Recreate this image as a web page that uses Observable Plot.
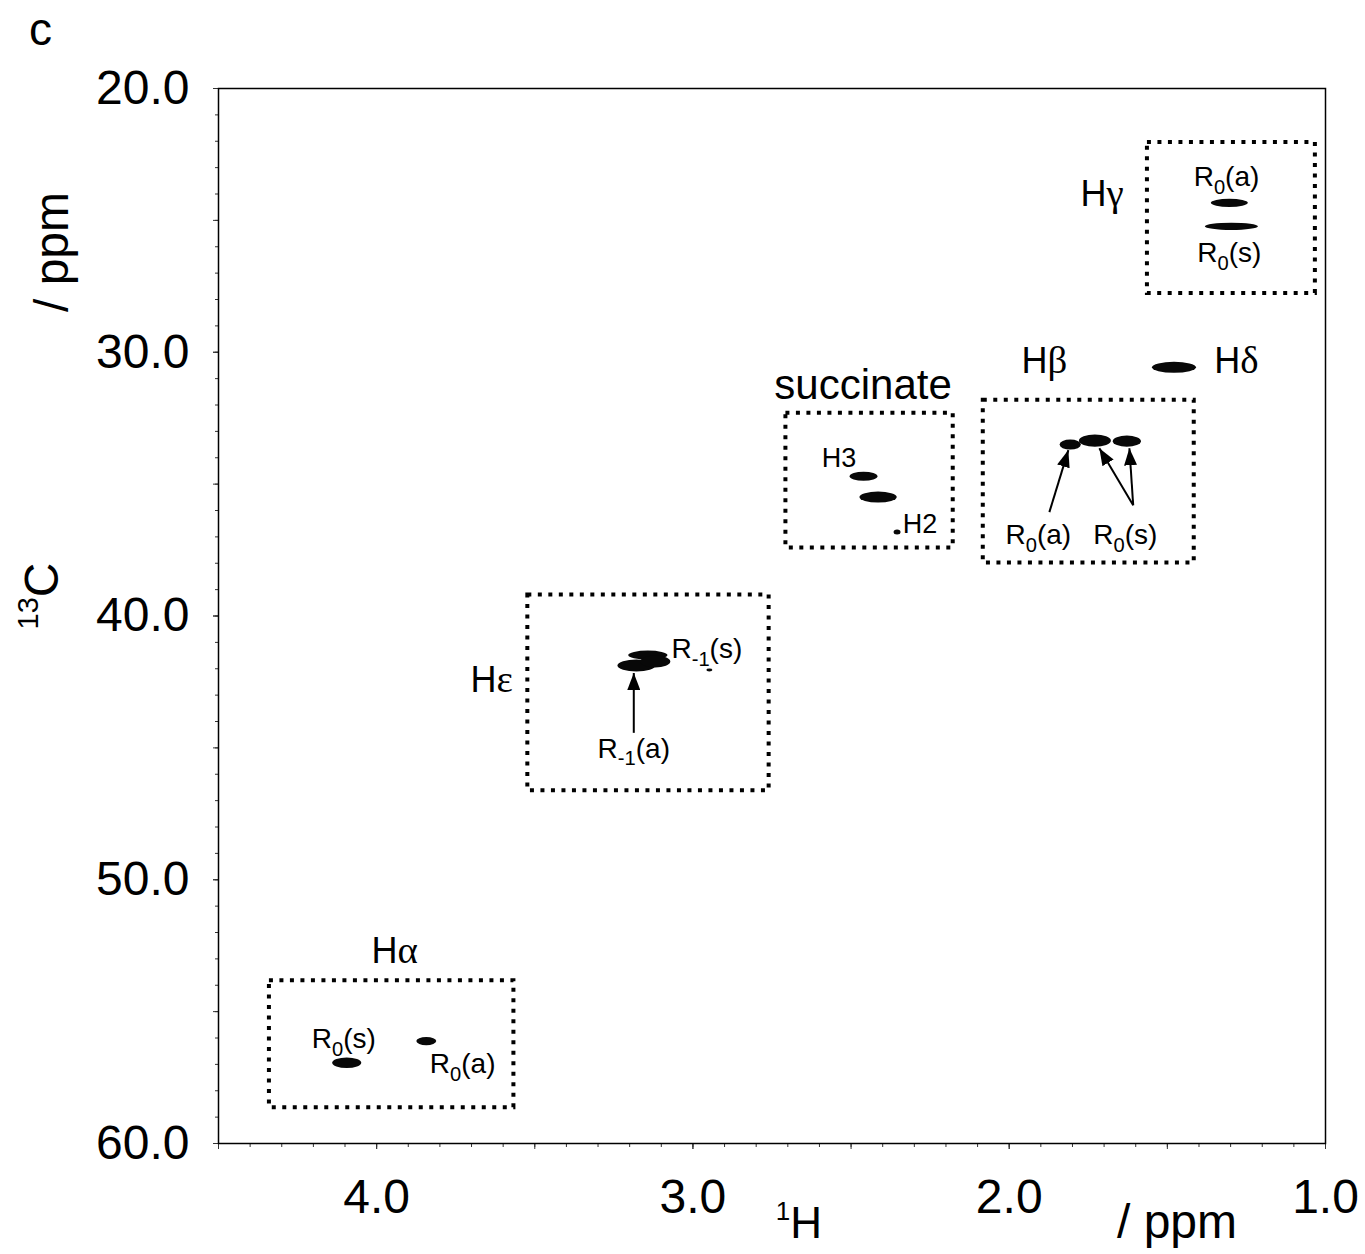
<!DOCTYPE html>
<html><head><meta charset="utf-8">
<script src="https://cdn.jsdelivr.net/npm/d3@7"></script>
<script src="https://cdn.jsdelivr.net/npm/@observablehq/plot@0.6"></script>
<style>body{margin:0;background:#fff} svg{display:block}</style>
</head><body><div id="chart"></div>
<script>
// Axes (ppm)
const xDomain = [4.5, 1.0];
const yDomain = [20, 60];
const xTickLabels = [4.0, 3.0, 2.0, 1.0];
const yTickLabels = [20, 30, 40, 50, 60];

// Dotted boxes around regions (ppm)
const boxName = ["Hγ", "succinate", "Hβ", "Hε", "Hα"];
const boxX1 = [1.563, 2.706, 2.082, 3.522, 4.339];
const boxX2 = [1.032, 2.177, 1.415, 2.759, 3.566];
const boxY1 = [22.05, 32.31, 31.82, 39.20, 53.83];
const boxY2 = [27.77, 37.42, 37.99, 46.63, 58.64];

// Cross peaks: 1H extent (ppm) and 13C extent (ppm)
const peakName = ["Hγ R0(a)", "Hγ R0(s)", "Hδ", "Hβ R0(a)", "Hβ R0(s) 1", "Hβ R0(s) 2",
  "succinate H3", "succinate H2", "succinate minor", "Hε R-1(s)", "Hε R-1(a)", "Hε R-1(a) 2", "Hε minor",
  "Hα R0(s)", "Hα R0(a)"];
const peakH1 = [1.361, 1.380, 1.547, 1.839, 1.778, 1.671, 2.503, 2.472, 2.364, 3.203, 3.237, 3.165, 2.956, 4.139, 3.873];
const peakH2 = [1.244, 1.212, 1.408, 1.772, 1.677, 1.582, 2.415, 2.354, 2.342, 3.079, 3.117, 3.070, 2.937, 4.047, 3.810];
const peakC1 = [24.20, 25.11, 30.38, 33.33, 33.14, 33.18, 34.55, 35.30, 36.74, 41.33, 41.67, 41.52, 42.01, 56.76, 55.98];
const peakC2 = [24.51, 25.38, 30.80, 33.71, 33.60, 33.60, 34.89, 35.72, 36.93, 41.67, 42.12, 41.97, 42.12, 57.16, 56.29];

// Annotation labels
const labelText = ["Hγ", "R_0(a)", "R_0(s)", "Hδ", "Hβ", "R_0(a)", "R_0(s)", "succinate", "H3", "H2",
  "Hε", "R_-1(s)", "R_-1(a)", "Hα", "R_0(s)", "R_0(a)"];
const labelX = [1.706, 1.313, 1.304, 1.282, 1.889, 1.908, 1.633, 2.462, 2.538, 2.282,
  3.636, 2.956, 3.187, 3.943, 4.104, 3.728];
const labelY = [24.02, 23.36, 26.24, 30.34, 30.34, 36.92, 36.92, 31.25, 34.04, 36.54,
  42.46, 41.24, 45.03, 52.73, 56.05, 56.99];
const labelSize = [36, 28, 28, 36, 36, 28, 28, 42, 27, 27, 36, 28, 28, 36, 28, 28];

// Arrows (from label to peak)
const arrowX1 = [1.873, 1.608, 1.608, 3.187];
const arrowY1 = [36.06, 35.80, 35.80, 44.43];
const arrowX2 = [1.813, 1.715, 1.620, 3.187];
const arrowY2 = [33.71, 33.64, 33.64, 42.16];

const boxes = boxName.map((n, i) => ({n, x1: boxX1[i], x2: boxX2[i], y1: boxY1[i], y2: boxY2[i]}));
const peaks = peakName.map((n, i) => ({n, x1: peakH1[i], x2: peakH2[i], y1: peakC1[i], y2: peakC2[i]}));
const labels = labelText.map((t, i) => ({t, x: labelX[i], y: labelY[i], s: labelSize[i]}));
const arrows = arrowX1.map((x1, i) => ({x1, y1: arrowY1[i], x2: arrowX2[i], y2: arrowY2[i]}));

const xMinor = d3.range(10, 46).map(d => d / 10);
const xMid = d3.range(10, 46, 5).map(d => d / 10);
const yMinor = d3.range(20, 61);
const yMid = d3.range(20, 61, 5);

const FONT = "'Liberation Sans', Arial, Helvetica, sans-serif";

const chart = Plot.plot({
  width: 1365, height: 1254,
  marginLeft: 218, marginRight: 40, marginTop: 88, marginBottom: 111,
  x: {domain: xDomain, label: null},
  y: {domain: yDomain, reverse: true, label: null},
  style: {fontFamily: FONT, background: "white", color: "black"},
  marks: [
    Plot.axisX(xMinor, {tickSize: 4, tickFormat: () => "", label: null, stroke: "#333"}),
    Plot.axisX(xMid, {tickSize: 6, tickFormat: () => "", label: null, stroke: "#333"}),
    Plot.axisX(xTickLabels, {tickSize: 6, tickPadding: 29, fontSize: 48, tickFormat: d3.format(".1f"), label: null, stroke: "#333"}),
    Plot.axisY(yMinor, {tickSize: 3, tickFormat: () => "", label: null, stroke: "#333"}),
    Plot.axisY(yMid, {tickSize: 5, tickFormat: () => "", label: null, stroke: "#333"}),
    Plot.axisY(yTickLabels, {tickSize: 5, tickPadding: 24, fontSize: 48, tickFormat: d3.format(".1f"), label: null, stroke: "#333"}),
    Plot.frame({stroke: "black", strokeWidth: 1.5}),
    Plot.rect(boxes, {x1: "x1", x2: "x2", y1: "y1", y2: "y2", fill: "none", stroke: "black", strokeWidth: 4, strokeDasharray: "4,6.5"}),
    Plot.rect(peaks, {x1: "x1", x2: "x2", y1: "y1", y2: "y2", fill: "#080808", rx: 999, ry: 999}),
    Plot.link(arrows, {x1: "x1", y1: "y1", x2: "x2", y2: "y2", stroke: "black", strokeWidth: 2, className: "ann-arrow"}),
    Plot.text(labels, {x: "x", y: "y", text: "t", fontSize: "s", fill: "black", className: "ann-label"})
  ]
});

const svg = d3.select(chart);

// Filled arrowheads
const defs = svg.append("defs");
defs.append("marker").attr("id", "tri").attr("markerUnits", "userSpaceOnUse")
  .attr("viewBox", "-17 -6.5 17 13").attr("refX", 0).attr("refY", 0)
  .attr("markerWidth", 17).attr("markerHeight", 13).attr("orient", "auto")
  .append("path").attr("d", "M-17,-6.5L0,0L-17,6.5Z").attr("fill", "black");
svg.selectAll(".ann-arrow path, .ann-arrow line").attr("marker-end", "url(#tri)");

// Subscripts and Greek letters in labels
svg.selectAll(".ann-label text").each(function() {
  const t = d3.select(this);
  const s = this.textContent;
  const fs = parseFloat(t.attr("font-size")) || 26;
  const m = s.match(/^R_(-?\d)(.*)$/);
  if (m) {
    t.text("R");
    t.append("tspan").attr("font-size", fs * 0.72).attr("dy", fs * 0.28).text(m[1]);
    t.append("tspan").attr("font-size", fs).attr("dy", -fs * 0.28).text(m[2]);
    return;
  }
  const g = s.match(/^H([αβγδε])$/);
  if (g) {
    t.text("H");
    t.append("tspan").attr("font-family", "'Liberation Serif', 'DejaVu Serif', serif").attr("font-size", fs * 1.08).text(g[1]);
  }
});

// Axis titles and panel letter
const titles = svg.append("g").attr("font-family", FONT).attr("fill", "black").attr("text-anchor", "start");
titles.append("text").attr("x", 29).attr("y", 45).attr("font-size", 46).text("c");
const yl = titles.append("text").attr("transform", "translate(58,596) rotate(-90)").attr("text-anchor", "middle").attr("font-size", 48);
yl.append("tspan").attr("font-size", 29).attr("dy", -20).text("13");
yl.append("tspan").attr("dy", 20).text("C");
titles.append("text").attr("transform", "translate(68,252) rotate(-90)").attr("text-anchor", "middle").attr("font-size", 48).text("/ ppm");
const xl = titles.append("text").attr("x", 822).attr("y", 1238).attr("text-anchor", "end").attr("font-size", 44);
xl.append("tspan").attr("font-size", 26).attr("dy", -18).text("1");
xl.append("tspan").attr("dy", 18).text("H");
titles.append("text").attr("x", 1117).attr("y", 1238).attr("text-anchor", "start").attr("font-size", 48).text("/ ppm");

document.getElementById("chart").appendChild(chart);
</script>
</body></html>
